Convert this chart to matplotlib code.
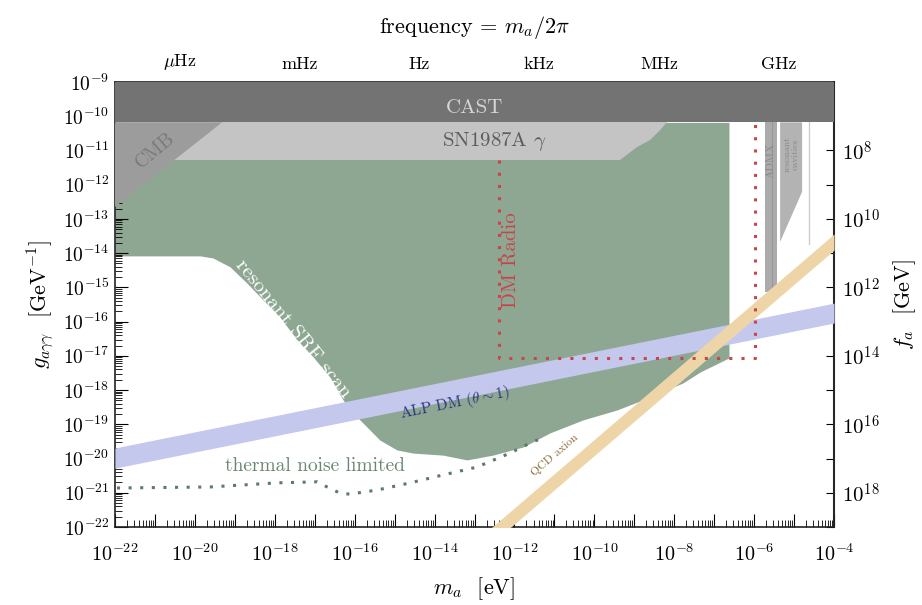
import matplotlib
matplotlib.use('Agg')
import matplotlib.pyplot as plt
import numpy as np
from matplotlib.ticker import LogLocator, FixedLocator, FuncFormatter, NullLocator

plt.rcParams['font.family'] = 'serif'
plt.rcParams['font.serif'] = ['cmr10', 'DejaVu Serif']
plt.rcParams['mathtext.fontset'] = 'cm'
plt.rcParams['axes.formatter.use_mathtext'] = True

# --- data (log10 values) ---
cast_low = -10.18                     # CAST limit, log10 g
cmb_logm = [-22.0, -19.32, -22.0]
cmb_logg = [-10.18, -10.18, -12.65]
sn_logm = [-22.0, -9.36, -8.93, -8.60, -8.35, -8.18, -22.0]
sn_logg = [-11.28, -11.28, -10.90, -10.69, -10.40, -10.17, -10.17]

# resonant SRF scan lower edge
srf_logm = [-22, -19.87, -19.55, -19.12, -18.70, -18.29, -17.87, -17.44, -17.04,
            -16.62, -16.29, -15.87, -15.37, -14.94, -14.54, -13.79, -13.19, -12.54,
            -11.78, -11.11, -10.28, -9.43, -8.60, -7.78, -7.35, -6.63]
srf_logg = [-14.08, -14.08, -14.14, -14.40, -14.87, -15.37, -15.87, -16.54, -17.03,
            -17.62, -18.29, -18.87, -19.46, -19.75, -19.84, -19.90, -20.04, -19.90,
            -19.66, -19.25, -18.87, -18.58, -18.20, -17.79, -17.47, -17.06]

# thermal noise limited
thermal_logm = [-21.95, -19.62, -17.94, -16.94, -16.69, -16.37, -16.12, -15.44,
                -14.61, -13.79, -12.94, -12.11, -11.56, -11.23]
thermal_logg = [-20.86, -20.83, -20.71, -20.68, -20.83, -21.01, -21.04, -20.92,
                -20.71, -20.48, -20.25, -19.84, -19.52, -19.37]

# DM Radio
dmr_logm = [-12.39, -12.39, -5.98, -5.98]
dmr_logg = [-11.28, -17.06, -17.06, -10.17]

# ADMX and resonant cavities
admx_logm = [-5.73, -5.43]
admx_logg = [-10.18, -15.13]
admx_line = ([-5.55, -5.55], [-10.18, -15.43])
cav_logm = [-5.35, -4.80, -4.80, -5.35]
cav_logg = [-10.18, -10.18, -12.21, -13.67]
cav_line = ([-4.62, -4.62], [-10.18, -13.73])

# ALP DM band (edges at m = 1e-22 and 1e-4 eV)
alp_logm = [-22, -4]
alp_top = [-19.69, -15.46]
alp_bot = [-20.28, -16.04]

# QCD axion band: log g = log m + c
qcd_c = [-9.44, -9.91]

freq_ticks = [1e-6, 1e-3, 1, 1e3, 1e6, 1e9]
freq_labels = [r'$\mu$Hz', 'mHz', 'Hz', 'kHz', 'MHz', 'GHz']

h_eV = 4.135667e-15

def p(a):
    return 10.0 ** np.asarray(a, dtype=float)

fig = plt.figure(figsize=(9.22, 6.05), dpi=100)
ax = fig.add_axes([0.1247, 0.1289, 0.7799, 0.7356])
ax.set_xscale('log')
ax.set_yscale('log')
ax.set_xlim(1e-22, 1e-4)
ax.set_ylim(1e-22, 1e-9)

green = '#8ea793'
ax.fill_between(p(srf_logm), p(srf_logg), 10 ** cast_low, color=green, lw=0, zorder=1)
ax.fill(p(sn_logm), p(sn_logg), color='#c4c4c4', lw=0, zorder=2)
ax.fill(p(cmb_logm), p(cmb_logg), color='#9c9c9c', lw=0, zorder=3)
ax.axhspan(10 ** cast_low, 1e-9, color='#737373', lw=0, zorder=3)

ax.fill_between(p(admx_logm), 10 ** admx_logg[1], 10 ** admx_logg[0], color='#ababab', lw=0, zorder=2)
ax.plot(p(admx_line[0]), p(admx_line[1]), color='#999999', lw=0.8, zorder=2)
ax.fill(p(cav_logm), p(cav_logg), color='#b3b3b3', lw=0, zorder=2)
ax.plot(p(cav_line[0]), p(cav_line[1]), color='#cccccc', lw=1.0, zorder=2)

# ALP DM band
mm = np.linspace(alp_logm[0], alp_logm[1], 50)
top = np.interp(mm, alp_logm, alp_top)
bot = np.interp(mm, alp_logm, alp_bot)
ax.fill_between(p(mm), p(bot), p(top), color='#c3c8ec', lw=0, zorder=4)

# QCD axion band
mq = np.linspace(-14, -4, 50)
ax.fill_between(p(mq), p(mq + qcd_c[1]), p(mq + qcd_c[0]), color='#edd5a8', lw=0, zorder=5)

ax.plot(p(dmr_logm), p(dmr_logg), color='#c8454a', lw=2.2, ls=(0, (1, 3.0)), zorder=6)
ax.plot(p(thermal_logm), p(thermal_logg), color='#5e7a68', lw=2.2, ls=(0, (1, 2.8)), zorder=6)

# labels inside
ax.text(p(-12.99), p(-9.76), 'CAST', color='#d6d6d6', fontsize=15, ha='center', va='center', zorder=7)
ax.text(p(-12.49), p(-10.75), r'SN1987A $\gamma$', color='#5c5c5c', fontsize=15, ha='center', va='center', zorder=7)
ax.text(p(-21.0), p(-10.99), 'CMB', color='#7a7a7a', fontsize=14, rotation=40, ha='center', va='center', zorder=7)
ax.text(p(-17.55), p(-16.2), 'resonant SRF scan', color='white', fontsize=15, rotation=-51, ha='center', va='center', zorder=7)
ax.text(p(-12.08), p(-14.2), 'DM Radio', color='#c8454a', fontsize=15, rotation=90, ha='center', va='center', zorder=7)
ax.text(p(-13.49), p(-18.38), r'ALP DM ($\theta\sim1$)', color='#2b3580', fontsize=11, rotation=11.4, ha='center', va='center', zorder=7)
ax.text(p(-16.99), p(-20.22), 'thermal noise limited', color='#6a8570', fontsize=14, ha='center', va='center', zorder=7)
ax.text(p(-10.98), p(-19.9), 'QCD axion', color='#8a6a3a', fontsize=8.5, rotation=41, ha='center', va='center', zorder=7)
ax.text(p(-5.57), p(-11.28), 'ADMX', color='#888888', fontsize=8, rotation=90, ha='center', va='center', zorder=7)
ax.text(p(-5.07), p(-11.1), 'resonant\ncavities', color='#888888', fontsize=7, rotation=90,
        ha='center', va='center', linespacing=0.9, zorder=7)

# ticks
def even_only(v, pos):
    e = int(round(np.log10(v)))
    return r'$10^{%d}$' % e if e % 2 == 0 else ''

def fa_label(v, pos):
    e = int(round(np.log10(v)))
    return r'$10^{%d}$' % e if (e % 2 == 0 and e >= 8) else ''

ax.xaxis.set_major_locator(LogLocator(base=10, numticks=40))
ax.xaxis.set_minor_locator(LogLocator(base=10, subs=np.arange(2, 10), numticks=40))
ax.xaxis.set_major_formatter(FuncFormatter(even_only))
ax.yaxis.set_major_locator(LogLocator(base=10, numticks=40))
ax.yaxis.set_minor_locator(LogLocator(base=10, subs=np.arange(2, 10), numticks=40))
ax.yaxis.set_major_formatter(FuncFormatter(lambda v, pos: r'$10^{%d}$' % int(round(np.log10(v)))))
ax.tick_params(which='both', direction='in', top=False, right=False)
ax.tick_params(which='major', length=9.5, width=0.8)
ax.tick_params(which='minor', length=5, width=0.6)
ax.tick_params(axis='x', which='major', pad=12, labelsize=14.5)
ax.tick_params(axis='y', which='major', pad=4, labelsize=14)
for s in ax.spines.values():
    s.set_linewidth(1.2)
    s.set_color('#222222')

ax.set_xlabel(r'$m_a$  [eV]', fontsize=16, labelpad=7)
ax.set_ylabel(r'$g_{a\gamma\gamma}$  [GeV$^{-1}$]', fontsize=16, labelpad=5)

# top: frequency
secx = ax.secondary_xaxis('top', functions=(lambda m: m / h_eV, lambda f: f * h_eV))
secx.xaxis.set_major_locator(FixedLocator(10.0 ** np.arange(-7, 11)))
secx.xaxis.set_minor_locator(NullLocator())
secx.xaxis.set_major_formatter(FuncFormatter(
    lambda v, pos: freq_labels[freq_ticks.index(10.0 ** round(np.log10(v)))]
    if any(abs(np.log10(v) - np.log10(t)) < 1e-6 for t in freq_ticks) else ''))
secx.tick_params(direction='in', length=6, width=0.8, labelsize=13, pad=7)
secx.set_xlabel(r'frequency = $m_a/2\pi$', fontsize=16, labelpad=14)

# right: f_a
secy = ax.secondary_yaxis('right', functions=(lambda g: 1e-3 / g, lambda f: 1e-3 / f))
secy.yaxis.set_major_locator(FixedLocator(10.0 ** np.arange(6, 20)))
secy.yaxis.set_minor_locator(NullLocator())
secy.yaxis.set_major_formatter(FuncFormatter(fa_label))
secy.tick_params(direction='in', length=6, width=0.8, labelsize=15, pad=6)
secy.set_ylabel(r'$f_a$  [GeV]', fontsize=16, labelpad=8)
secy.spines['right'].set_linewidth(1.5)
secy.spines['right'].set_color('#444444')

fig.savefig('out.png', dpi=100)
